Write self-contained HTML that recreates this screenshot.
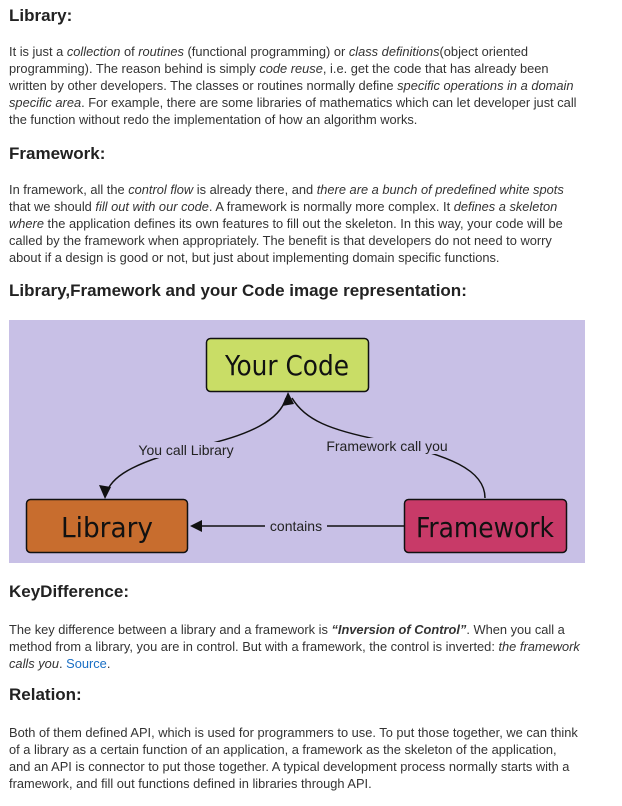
<!DOCTYPE html>
<html><head><meta charset="utf-8"><style>
body{margin:0;width:622px;height:806px;background:#fff;position:relative;font-family:"Liberation Sans",sans-serif;color:#333;overflow:hidden}
.h{position:absolute;left:9px;font-weight:bold;font-size:17px;color:#222;white-space:nowrap}
.p{position:absolute;left:9px;font-size:12.85px;line-height:17px;white-space:nowrap;color:#333}
a{color:#1a6fc4;text-decoration:none}
</style></head><body>
<div class="h" style="top:6px">Library:</div>
<div class="p" style="top:43px">It is just a <i>collection</i> of <i>routines</i> (functional programming) or <i>class definitions</i>(object oriented<br>programming). The reason behind is simply <i>code reuse</i>, i.e. get the code that has already been<br>written by other developers. The classes or routines normally define <i>specific operations in a domain</i><br><i>specific area</i>. For example, there are some libraries of mathematics which can let developer just call<br>the function without redo the implementation of how an algorithm works.</div>
<div class="h" style="top:144px">Framework:</div>
<div class="p" style="top:181px">In framework, all the <i>control flow</i> is already there, and <i>there are a bunch of predefined white spots</i><br>that we should <i>fill out with our code</i>. A framework is normally more complex. It <i>defines a skeleton</i><br><i>where</i> the application defines its own features to fill out the skeleton. In this way, your code will be<br>called by the framework when appropriately. The benefit is that developers do not need to worry<br>about if a design is good or not, but just about implementing domain specific functions.</div>
<div class="h" style="top:281px">Library,Framework and your Code image representation:</div>
<svg style="position:absolute;left:9px;top:320px" width="576" height="243" viewBox="9 320 576 243">
<rect x="9" y="320" width="576" height="243" fill="#c8c0e6"/>
<rect x="206.5" y="338.5" width="162" height="53" rx="4" fill="#c9dd66" stroke="#111" stroke-width="1.5"/>
<rect x="26.5" y="499.5" width="161" height="53" rx="4" fill="#c86d2e" stroke="#111" stroke-width="1.5"/>
<rect x="404.5" y="499.5" width="162" height="53" rx="4" fill="#c83a68" stroke="#111" stroke-width="1.5"/>
<g font-family="DejaVu Sans,sans-serif" font-size="28" fill="#111" text-anchor="middle" style="font-stretch:condensed">
<text x="287" y="375" textLength="124" lengthAdjust="spacingAndGlyphs">Your Code</text>
<text x="107" y="537" textLength="92" lengthAdjust="spacingAndGlyphs">Library</text>
<text x="485" y="537" textLength="138" lengthAdjust="spacingAndGlyphs">Framework</text>
</g>
<g fill="none" stroke="#111" stroke-width="1.5">
<path d="M286 398 C280 420 250 435 200 446 C140 460 110 475 106 495"/>
<path d="M292 398 C305 420 330 430 380 440 C450 455 485 470 485 498"/>
<path d="M404 526 L198 526"/>
</g>
<g fill="#111">
<polygon points="288,392 282,406 294,404"/>
<polygon points="105,499 99,485 111,487"/>
<polygon points="190,526 202,520 202,532"/>
</g>
<g font-family="Liberation Sans,sans-serif" font-size="14" fill="#222" text-anchor="middle">
<rect x="132" y="442" width="108" height="16" fill="#c8c0e6"/>
<text x="186" y="455">You call Library</text>
<rect x="316" y="438" width="142" height="16" fill="#c8c0e6"/>
<text x="387" y="451">Framework call you</text>
<rect x="265" y="518" width="62" height="16" fill="#c8c0e6"/>
<text x="296" y="531">contains</text>
</g>
</svg>
<div class="h" style="top:582px">KeyDifference:</div>
<div class="p" style="top:621px">The key difference between a library and a framework is <b><i>“Inversion of Control”</i></b>. When you call a<br>method from a library, you are in control. But with a framework, the control is inverted: <i>the framework</i><br><i>calls you</i>. <a>Source</a>.</div>
<div class="h" style="top:685px">Relation:</div>
<div class="p" style="top:724px">Both of them defined API, which is used for programmers to use. To put those together, we can think<br>of a library as a certain function of an application, a framework as the skeleton of the application,<br>and an API is connector to put those together. A typical development process normally starts with a<br>framework, and fill out functions defined in libraries through API.</div>
</body></html>
